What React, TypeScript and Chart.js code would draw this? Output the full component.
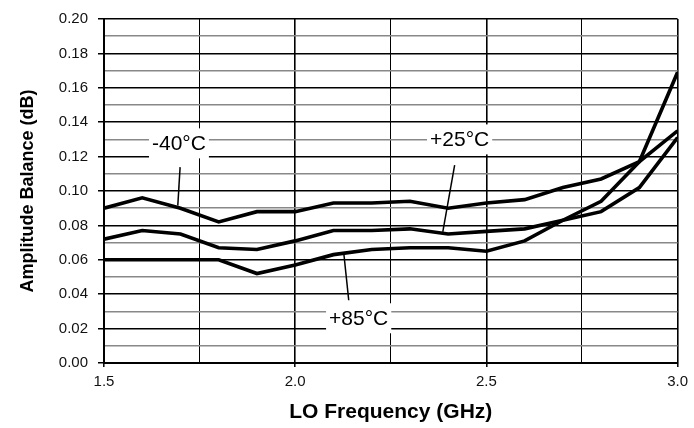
import React, { useEffect, useRef } from "react";
import { Chart, registerables } from "chart.js";

Chart.register(...registerables);

const freqGHz = [1.5, 1.6, 1.7, 1.8, 1.9, 2.0, 2.1, 2.2, 2.3, 2.4, 2.5, 2.6, 2.7, 2.8, 2.9, 3.0];
const balMinus40 = [0.090, 0.096, 0.090, 0.082, 0.088, 0.088, 0.093, 0.093, 0.094, 0.090, 0.093, 0.095, 0.102, 0.107, 0.117, 0.135];
const balPlus25 = [0.072, 0.077, 0.075, 0.067, 0.066, 0.071, 0.077, 0.077, 0.078, 0.075, 0.0765, 0.078, 0.083, 0.088, 0.102, 0.131];
const balPlus85 = [0.060, 0.060, 0.060, 0.060, 0.052, 0.057, 0.063, 0.066, 0.067, 0.067, 0.065, 0.071, 0.083, 0.094, 0.117, 0.169];

const seriesNames = ["-40°C", "+25°C", "+85°C"];
const seriesValues = [balMinus40, balPlus25, balPlus85];

// callout labels: text, label centre (GHz, dB), leader line start/end (GHz, dB)
const calloutText = ["-40°C", "+25°C", "+85°C"];
const calloutAt = [
  [1.696, 0.1277],
  [2.43, 0.130],
  [2.166, 0.026],
];
const calloutLeader = [
  [1.699, 0.1139, 1.693, 0.0915],
  [2.417, 0.115, 2.386, 0.0762],
  [2.127, 0.0640, 2.140, 0.0365],
];

const FONT = "'Liberation Sans', Arial, Helvetica, sans-serif";

const calloutPlugin = {
  id: "callouts",
  afterDatasetsDraw(chart: any) {
    const { ctx, scales } = chart;
    const xs = scales.x;
    const ys = scales.y;
    ctx.save();
    ctx.font = `21px ${FONT}`;
    ctx.textAlign = "center";
    ctx.textBaseline = "middle";
    calloutText.forEach((t, i) => {
      const [fx, fy] = calloutAt[i];
      const cx = xs.getPixelForValue(fx);
      const cy = ys.getPixelForValue(fy);
      const w = ctx.measureText(t).width + 6;
      const h = 30;
      ctx.fillStyle = "#ffffff";
      ctx.fillRect(cx - w / 2, cy - h / 2, w, h);
      ctx.fillStyle = "#000000";
      ctx.fillText(t, cx, cy + 1);
      const [a, b, c, d] = calloutLeader[i];
      ctx.beginPath();
      ctx.moveTo(xs.getPixelForValue(a), ys.getPixelForValue(b));
      ctx.lineTo(xs.getPixelForValue(c), ys.getPixelForValue(d));
      ctx.strokeStyle = "#000000";
      ctx.lineWidth = 1.5;
      ctx.stroke();
    });
    ctx.restore();
  },
};

export default function App() {
  const canvasRef = useRef<HTMLCanvasElement | null>(null);

  useEffect(() => {
    document.body.style.margin = "0";
    const canvas = canvasRef.current;
    if (!canvas) return;
    const chart = new Chart(canvas, {
      type: "line",
      data: {
        datasets: seriesNames.map((name, si) => ({
          label: name,
          data: freqGHz.map((f, i) => ({ x: f, y: seriesValues[si][i] })),
          borderColor: "#000000",
          borderWidth: 3.6,
          pointRadius: 0,
          tension: 0,
          fill: false,
        })),
      },
      options: {
        responsive: false,
        animation: false,
        devicePixelRatio: 1,
        layout: { padding: { top: 17, right: 16, left: 0, bottom: 0 } },
        plugins: {
          legend: { display: false },
          tooltip: { enabled: false },
        },
        scales: {
          x: {
            type: "linear",
            min: 1.5,
            max: 3.0,
            afterFit(scale: any) {
              scale.height = 65;
            },
            ticks: {
              stepSize: 0.25,
              autoSkip: false,
              maxRotation: 0,
              padding: 6,
              color: "#111",
              font: { family: FONT, size: 15 },
              callback: (v: any, idx: number) => (idx % 2 === 0 ? Number(v).toFixed(1) : ""),
            },
            grid: {
              color: () => "#000",
              lineWidth: (c: any) => (c.index % 2 === 0 ? 1.6 : 1),
              tickLength: 4,
              tickColor: (c: any) => (c.index % 2 === 0 ? "#000" : "rgba(0,0,0,0)"),
              tickWidth: 1.5,
            },
            border: { color: "#000", width: 2 },
            title: {
              display: true,
              text: "LO Frequency (GHz)",
              color: "#000",
              font: { family: FONT, size: 21, weight: "bold" },
              padding: { top: 0, bottom: 3 },
            },
          },
          y: {
            type: "linear",
            min: 0,
            max: 0.2,
            afterFit(scale: any) {
              scale.width = 104;
            },
            ticks: {
              stepSize: 0.01,
              autoSkip: false,
              padding: 10,
              color: "#111",
              font: { family: FONT, size: 15 },
              callback: (v: any, idx: number) => (idx % 2 === 0 ? Number(v).toFixed(2) : ""),
            },
            grid: {
              color: (c: any) => (c.index % 2 === 0 ? "#000" : "#888"),
              lineWidth: 1.5,
              tickLength: 6,
              tickColor: (c: any) => (c.index % 2 === 0 ? "#000" : "rgba(0,0,0,0)"),
              tickWidth: 1.5,
            },
            border: { color: "#000", width: 2 },
            title: {
              display: true,
              text: "Amplitude Balance (dB)",
              color: "#000",
              font: { family: FONT, size: 18, weight: "bold" },
              padding: { top: 17, bottom: 0 },
            },
          },
        },
      },
      plugins: [calloutPlugin],
    } as any);
    return () => chart.destroy();
  }, []);

  return (
    <div style={{ width: 694, height: 428 }}>
      <canvas ref={canvasRef} width={694} height={428} style={{ display: "block" }} />
    </div>
  );
}
